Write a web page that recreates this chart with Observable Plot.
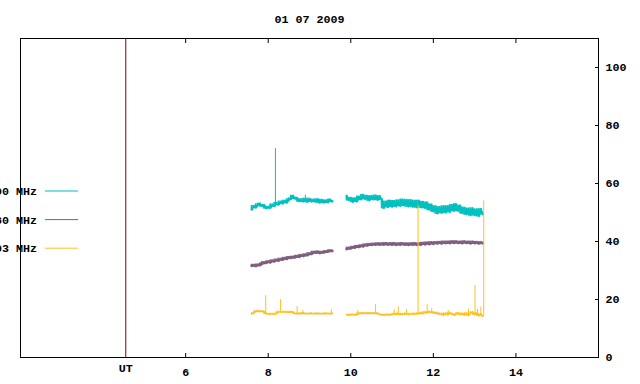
<!DOCTYPE html>
<html><head><meta charset="utf-8">
<script src="https://cdn.jsdelivr.net/npm/d3@7"></script>
<script src="https://cdn.jsdelivr.net/npm/@observablehq/plot@0.6"></script>
<style>body{margin:0;background:#fff}</style>
</head><body><div id="chart"></div>
<script>
const title = "01 07 2009";
const seriesNames = ["2800 MHz", "1980 MHz", "1403 MHz"];
const seriesColors = ["#00c0c0", "#7f5f7f", "#ffc020"];
const xTicks = [6, 8, 10, 12, 14];
const yTicks = [0, 20, 40, 60, 80, 100];
const utTime = 4.55;
const utLabel = "UT";

// sample times (hours UT) of the two recording segments
const times1 = [7.60,7.65,7.70,7.75,7.80,7.85,7.90,7.95,
  8.00,8.05,8.10,8.15,8.20,8.25,8.30,8.35,8.40,8.45,8.50,8.55,8.60,8.65,8.70,8.75,8.80,8.85,8.90,8.95,
  9.00,9.05,9.10,9.15,9.20,9.25,9.30,9.35,9.40,9.45,9.50,9.55];
const times2 = [9.90,9.95,
  10.00,10.05,10.10,10.15,10.20,10.25,10.30,10.35,10.40,10.45,10.50,10.55,10.60,10.65,10.70,10.75,10.80,10.85,10.90,10.95,
  11.00,11.05,11.10,11.15,11.20,11.25,11.30,11.35,11.40,11.45,11.50,11.55,11.60,11.65,11.70,11.75,11.80,11.85,11.90,11.95,
  12.00,12.05,12.10,12.15,12.20,12.25,12.30,12.35,12.40,12.45,12.50,12.55,12.60,12.65,12.70,12.75,12.80,12.85,12.90,12.95,
  13.00,13.05,13.10,13.15,13.20];

// series A (cyan)
const cyan1 = [51.0,52.1,51.7,52.6,52.9,52.2,52.4,51.5,
  51.8,51.6,52.6,52.2,53.1,52.7,53.6,53.1,53.9,53.4,54.4,54.7,55.6,54.8,54.9,53.9,54.4,53.8,54.6,53.7,
  54.6,53.8,54.3,53.7,54.4,53.4,54.2,53.4,54.0,53.5,54.3,53.8];
const cyan2 = [55.6,54.3,
  54.9,53.7,54.7,53.8,55.3,54.5,55.9,54.7,55.6,54.2,55.5,54.5,55.7,54.4,55.5,54.4,51.6,53.6,51.9,53.9,
  52.0,53.8,52.1,54.0,52.3,54.3,52.4,54.2,52.1,54.1,52.0,53.9,51.8,53.9,51.8,53.5,51.6,53.3,51.0,52.6,
  50.4,52.0,49.7,51.7,49.9,52.0,50.0,52.0,50.2,52.4,50.6,52.7,50.6,52.2,49.8,51.5,49.4,51.2,49.1,51.3,
  49.1,50.9,48.8,51.0,49.4];
const cyanSpikeTimes = [8.175, 8.90];
const cyanSpikeValues = [72.0, 56.0];

// series B (purple)
const purple1 = [31.6,31.8,31.5,31.9,31.8,32.3,32.7,32.6,
  33.0,32.8,33.3,33.1,33.6,33.4,33.9,33.7,34.2,34.0,34.5,34.3,34.6,34.5,34.9,34.7,35.2,35.0,35.4,35.3,
  35.8,35.7,36.3,36.1,36.4,36.0,36.3,36.2,36.5,36.5,36.8,36.7];
const purple2 = [37.4,37.7,
  37.6,38.0,37.9,38.3,38.1,38.5,38.3,38.8,38.6,39.0,38.8,39.1,38.9,39.2,38.9,39.2,38.9,39.3,38.9,39.2,
  38.9,39.3,38.8,39.2,38.9,39.3,38.9,39.2,38.8,39.2,38.9,39.3,38.8,39.2,38.9,39.4,39.0,39.5,39.1,39.6,
  39.2,39.6,39.3,39.7,39.3,39.8,39.4,39.8,39.4,39.9,39.5,39.9,39.5,39.8,39.4,39.9,39.5,39.8,39.3,39.8,
  39.4,39.7,39.3,39.6,39.4];

// series C (orange)
const orange1 = [15.0,15.3,15.9,16.0,15.9,15.9,15.8,15.1,
  15.0,15.0,15.0,15.0,15.1,15.7,15.7,15.7,15.7,15.7,15.6,15.7,15.6,15.1,15.1,15.2,15.1,15.3,15.1,15.1,
  15.1,15.2,15.1,15.1,15.2,15.1,15.1,15.1,15.2,15.1,15.1,15.1];
const orange2 = [14.7,14.7,14.7,14.8,14.7,14.7,
  15.2,15.2,15.3,15.2,15.2,15.3,15.2,15.2,15.3,15.2,
  14.8,14.7,14.7,14.7,14.8,14.7,14.8,
  15.0,14.9,15.1,14.8,15.0,14.9,15.1,14.8,15.0,15.0,15.1,
  15.0,15.2,15.3,15.1,15.6,15.4,15.8,15.5,15.6,15.2,15.4,
  14.9,15.1,14.6,15.2,14.7,15.4,15.0,14.6,14.9,15.3,
  14.8,15.1,14.6,15.2,14.5,15.3,15.6,14.8,15.2,14.4,14.9,14.3];
const orangeSpikeTimes = [7.94, 8.30, 8.70, 8.84, 9.53, 10.17, 10.60, 11.05, 11.15, 11.35, 11.63, 11.85, 11.96, 12.36, 12.85, 13.01, 13.07, 13.15, 13.22];
const orangeSpikeValues = [21.3, 19.9, 17.5, 16.3, 16.5, 16.2, 18.2, 16.5, 17.5, 16.5, 52.5, 18.2, 16.9, 16.2, 16.7, 24.8, 16.6, 17.4, 54.0];

function buildSeries(name, v1, v2) {
  const rows = [];
  times1.forEach((t, i) => rows.push({t, v: v1[i], next: i + 1 < v1.length ? v1[i + 1] : v1[i], seg: 1}));
  times2.forEach((t, i) => rows.push({t, v: v2[i], next: i + 1 < v2.length ? v2[i + 1] : v2[i], seg: 2}));
  return rows;
}
function buildSpikes(rows, spT, spV) {
  // each spike rises from the nearest recorded sample of its series
  return spT.map((t, i) => {
    const near = d3.least(rows, r => Math.abs(r.t - t));
    return {t, base: near.v, peak: spV[i]};
  });
}
const dataA = buildSeries(seriesNames[0], cyan1, cyan2);
const dataB = buildSeries(seriesNames[1], purple1, purple2);
const dataC = buildSeries(seriesNames[2], orange1, orange2);
const spikesA = buildSpikes(dataA, cyanSpikeTimes, cyanSpikeValues);
const spikesC = buildSpikes(dataC, orangeSpikeTimes, orangeSpikeValues);

const font = "'Liberation Mono', 'DejaVu Sans Mono', monospace";
const seriesMarks = (data, spikes, color, lw, rw) => [
  Plot.line(data, {x: "t", y: "v", z: "seg", stroke: color, strokeWidth: lw}),
  Plot.ruleX(data, {x: "t", y1: "v", y2: "next", stroke: color, strokeWidth: rw, strokeLinecap: "square"}),
  ...(spikes ? [Plot.ruleX(spikes, {x: "t", y1: "base", y2: "peak", stroke: color, strokeWidth: 1})] : [])
];

const plot = Plot.plot({
  width: 640,
  height: 384,
  marginLeft: 20,
  marginRight: 42,
  marginTop: 38,
  marginBottom: 27,
  style: {fontFamily: font, fontSize: "11.7px", fontWeight: "bold", background: "#fff", overflow: "hidden"},
  x: {domain: [2, 16], label: null},
  y: {domain: [0, 110], label: null},
  marks: [
    Plot.ruleX([utTime], {x: d => d, stroke: "#800000", strokeWidth: 1}),
    ...seriesMarks(dataA, spikesA, seriesColors[0], 2.2, 2),
    ...seriesMarks(dataB, null, seriesColors[1], 2.6, 2),
    ...seriesMarks(dataC, spikesC, seriesColors[2], 1.6, 1.4),
    Plot.frame({stroke: "#000"}),
    Plot.axisX(xTicks, {anchor: "bottom", tickSize: 4, dy: -4, tickFormat: () => "", label: null}),
    Plot.axisX(xTicks, {anchor: "top", tickSize: 4, dy: 4, tickFormat: () => "", label: null}),
    Plot.axisX(xTicks, {anchor: "bottom", tickSize: 0, tickPadding: 10, label: null, fill: "#000"}),
    Plot.axisY(yTicks, {anchor: "right", tickSize: 4, dx: -4, tickFormat: () => "", label: null}),
    Plot.axisY(yTicks, {anchor: "right", tickSize: 0, tickPadding: 7, label: null, fill: "#000"}),
    Plot.text([utLabel], {x: () => utTime, text: d => d, frameAnchor: "bottom", lineAnchor: "middle", dy: 11, fill: "#000"}),
    Plot.text([title], {text: d => d, frameAnchor: "top", lineAnchor: "middle", dy: -19, fill: "#000"})
  ]
});
document.getElementById("chart").appendChild(plot);

// key (legend) in the upper-left of the frame, gnuplot style
const svg = d3.select(plot);
const key = svg.append("g")
  .attr("font-family", font)
  .attr("font-size", "11.7px").attr("font-weight", "bold");
seriesNames.forEach((name, i) => {
  const yy = 191 + i * 28.6;
  key.append("text").attr("x", 37).attr("y", yy).attr("dy", "0.35em")
    .attr("text-anchor", "end").attr("fill", "#000").text(name);
  key.append("line").attr("x1", 45).attr("x2", 78).attr("y1", yy).attr("y2", yy)
    .attr("stroke", seriesColors[i]).attr("stroke-width", 1);
});
</script>
</body></html>
